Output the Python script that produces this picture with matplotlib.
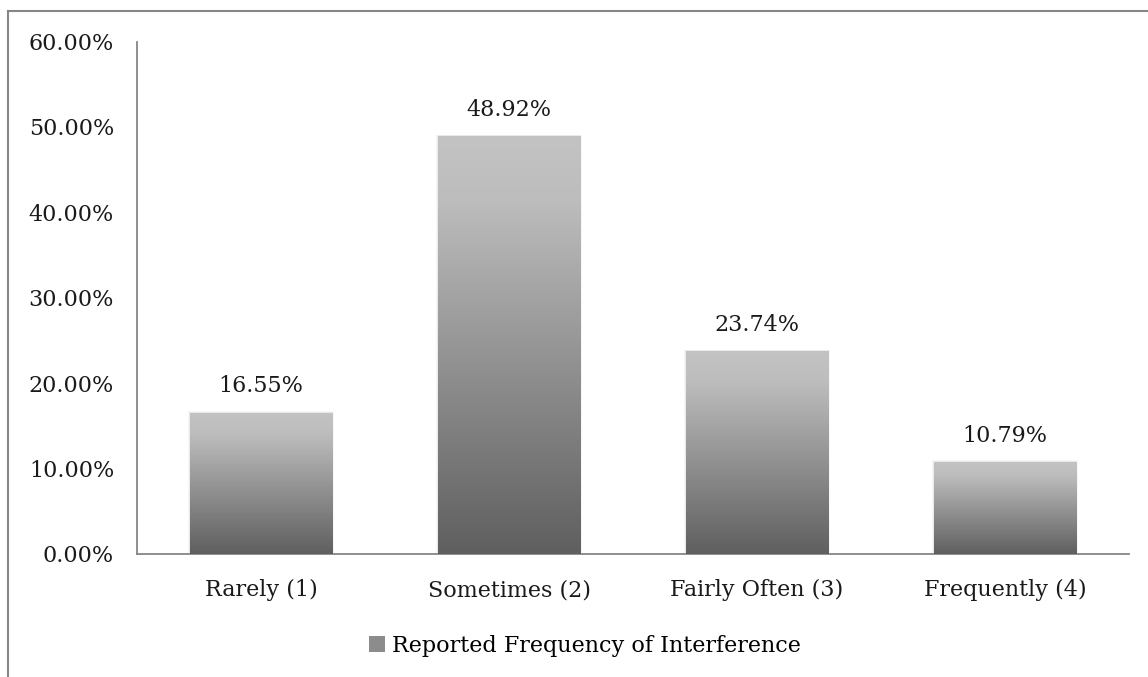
import numpy as np
import matplotlib
matplotlib.use("Agg")
import matplotlib.pyplot as plt
from matplotlib.patches import Patch
from matplotlib.lines import Line2D
from matplotlib.ticker import FuncFormatter, MultipleLocator
from matplotlib.colors import LinearSegmentedColormap

categories = ["Rarely (1)", "Sometimes (2)", "Fairly Often (3)", "Frequently (4)"]
values = [16.55, 48.92, 23.74, 10.79]
series_name = "Reported Frequency of Interference"

plt.rcParams['font.family'] = ['DejaVu Serif']

W, H = 1148, 677
fig = plt.figure(figsize=(W / 100, H / 100), dpi=100)
ax = fig.add_axes([137 / W, 1 - 554 / H, (1129 - 137) / W, (554 - 41.5) / H])

cmap = LinearSegmentedColormap.from_list("g", [(0, "#5f5f5f"), (0.85, "#bdbdbd"), (1, "#c3c3c3")])
x = np.arange(len(categories))
bars = ax.bar(x, values, width=0.573, color="none", edgecolor="none", zorder=2)
grad = np.linspace(0, 1, 256).reshape(-1, 1)
for b in bars:
    x0, y0, w, h = b.get_x(), b.get_y(), b.get_width(), b.get_height()
    # soft shadow
    for k, a in [(0.016, 0.03), (0.010, 0.05)]:
        ax.bar(x0 + w / 2, h + k * 12, width=w + k, bottom=0, color="#000000", alpha=a,
               edgecolor="none", zorder=1)
    im = ax.imshow(grad, extent=[x0, x0 + w, y0, y0 + h], origin="lower", cmap=cmap,
                   aspect="auto", zorder=3, interpolation="bicubic")
    im.set_clip_path(b)

for xi, v in zip(x, values):
    ax.annotate(f"{v:.2f}%", (xi, v), xytext=(0, 11), textcoords="offset points",
                ha="center", va="bottom", fontsize=16, color="#1a1a1a")

ax.set_xlim(-0.5, len(categories) - 0.5)
ax.set_ylim(0, 60)
ax.yaxis.set_major_locator(MultipleLocator(10))
ax.yaxis.set_major_formatter(FuncFormatter(lambda v, p: f"{v:.2f}%"))
ax.set_xticks(x)
ax.set_xticklabels(categories)
ax.tick_params(axis="both", length=0, labelsize=16, colors="#1a1a1a")
ax.tick_params(axis="x", pad=18)
ax.tick_params(axis="y", pad=16.5)
for s in ["top", "right"]:
    ax.spines[s].set_visible(False)
for s in ["left", "bottom"]:
    ax.spines[s].set_color("#868686")
    ax.spines[s].set_linewidth(1.3)

# legend
leg_handle = Patch(facecolor="#8c8c8c", edgecolor="none")
fig.legend([leg_handle], [series_name], loc="center", bbox_to_anchor=(585 / W, 1 - 646 / H),
           frameon=False, fontsize=16, handlelength=0.7, handleheight=0.7, handletextpad=0.3)

# outer chart border (cropped at right and bottom)
fig.add_artist(Line2D([8 / W, 1.0], [1 - 11 / H, 1 - 11 / H], transform=fig.transFigure,
                      color="#868686", lw=1.5))
fig.add_artist(Line2D([8 / W, 8 / W], [0, 1 - 11 / H], transform=fig.transFigure,
                      color="#868686", lw=1.5))

fig.savefig("out.png", dpi=100, facecolor="white")
